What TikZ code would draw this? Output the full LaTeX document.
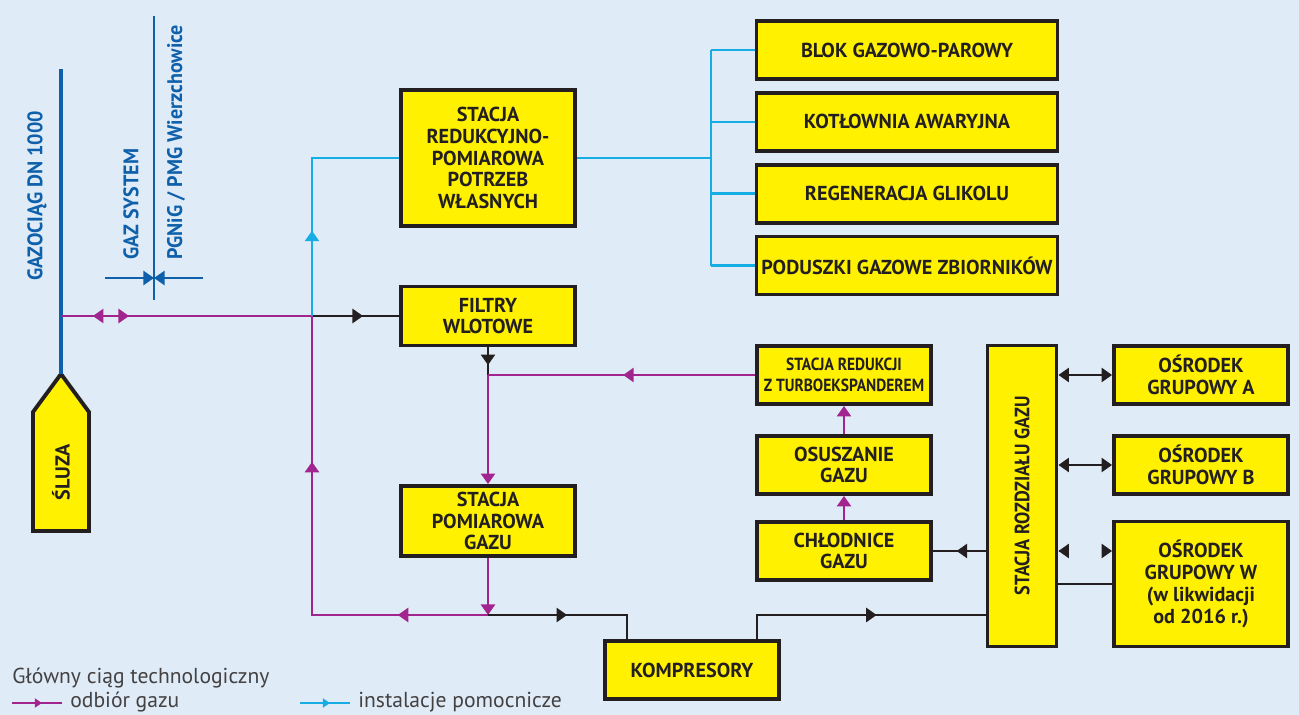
\documentclass[tikz,border=0pt]{standalone}
\usepackage{fontspec}
\setmainfont{PT Sans}
\newfontfamily\boxfont{PT Sans}[FakeStretch=0.88]
\newfontfamily\tagfont{PT Sans}[FakeStretch=0.95]
\usepackage{graphicx}
\usepackage{tikz}
\usetikzlibrary{positioning}
\usetikzlibrary{calc}
\usetikzlibrary{arrows.meta}
\usetikzlibrary{decorations.markings}

\definecolor{gasline}{RGB}{162,36,142}
\definecolor{auxline}{RGB}{22,172,228}
\definecolor{pipeblue}{RGB}{14,96,170}
\definecolor{boxyellow}{RGB}{255,241,0}
\definecolor{ink}{RGB}{35,31,32}
\definecolor{bgblue}{RGB}{223,235,246}

\begin{document}
\begin{tikzpicture}[
    x=0.02cm, y=-0.02cm,                 % one unit = one pixel, y runs down
    >={Triangle[length=6pt,width=8pt]},  % filled tips everywhere
    ]
% -------------------------------------------------
\tikzset{
  base/.style={draw=ink, line width=2.2pt, fill=boxyellow, text=ink, align=center, inner sep=1pt,
    font=\bfseries\fontsize{11.5}{12.4}\selectfont},
  proc/.style={base, rectangle, minimum width=3.48cm, minimum height=1.16cm},
  wide/.style={base, rectangle, minimum width=6.02cm, minimum height=1.16cm},
  main/.style={draw=ink, line width=1.4pt},
  gas/.style={draw=gasline, line width=1.4pt},
  aux/.style={draw=auxline, line width=1.4pt},
  pipe/.style={draw=pipeblue, line width=1.2pt},
  arr/.style={postaction={decorate, decoration={markings, mark=at position #1 with {\arrow{>}}}}},
  rarr/.style={postaction={decorate, decoration={markings, mark=at position #1 with {\arrowreversed{>}}}}},
  tag/.style={text=pipeblue, rotate=90, inner sep=0pt, font=\tagfont\bfseries\fontsize{12}{12}\selectfont},
  legend/.style={text=ink!85, inner sep=0pt, anchor=west, font=\fontsize{12.3}{14}\selectfont}
}
% -------------------------------------------------
\fill[bgblue] (0,0) rectangle (1299,715);
\useasboundingbox (0,0) rectangle (1299,715);

% Placing the nodes
\coordinate (slt) at (61,374);
\draw [ink, line width=2.2pt, fill=boxyellow, line join=miter]
  (slt) -- (89,412) -- (89,531) -- (33,531) -- (33,412) -- cycle;
\node [text=ink, rotate=90, inner sep=0pt, font=\bfseries\fontsize{11.5}{12}\selectfont] (sl) at (61,472) {ŚLUZA};

\node [proc, minimum height=2.72cm] (srp) at (488,158) {STACJA\\REDUKCYJNO-\\POMIAROWA\\POTRZEB\\WŁASNYCH};
\node [proc, minimum height=1.18cm] (fil) at (488,316) {FILTRY\\WLOTOWE};
\node [proc, minimum height=1.4cm] (spg) at (488,521) {STACJA\\POMIAROWA\\GAZU};
\node [proc] (kom) at (692,670) {KOMPRESORY};

\node [wide] (blok) at (907,50) {BLOK GAZOWO-PAROWY};
\node [wide, below=0.2cm of blok] (kot) {KOTŁOWNIA AWARYJNA};
\node [wide, below=0.2cm of kot] (reg) {REGENERACJA GLIKOLU};
\node [wide, below=0.2cm of reg] (pod) {PODUSZKI GAZOWE ZBIORNIKÓW};

\node [proc, font=\boxfont\bfseries\fontsize{10}{12}\selectfont] (srt) at (844,375) {STACJA REDUKCJI\\Z TURBOEKSPANDEREM};
\node [proc] (osu) at (844,465) {OSUSZANIE\\GAZU};
\node [proc] (chl) at (844,551) {CHŁODNICE\\GAZU};

\node [base, minimum width=1.38cm, minimum height=6.02cm, font=\boxfont\bfseries\fontsize{11.8}{12}\selectfont] (srg) at (1022,496) {\rotatebox{90}{STACJA ROZDZIAŁU GAZU}};

\node [proc] (osa) at (1201,375) {OŚRODEK\\GRUPOWY A};
\node [proc] (osb) at (1201,465) {OŚRODEK\\GRUPOWY B};
\node [proc, minimum height=2.5cm] (osw) at (1201,584) {OŚRODEK\\GRUPOWY W\\(w likwidacji\\od 2016 r.)};

% border marker and labels
\node [tag] (gz) at (37,196) {GAZOCIĄG DN 1000};
\node [tag, anchor=west] (gs) at (131,260) {GAZ SYSTEM};
\node [tag, anchor=west] (pg) at (176,260) {PGNiG / PMG Wierzchowice};

\coordinate (top) at (61,69);
\coordinate (g1) at (61,316);
\coordinate (j1) at (312,316);
\coordinate (j2) at (fil.south |- srt.west);
\coordinate (j3) at (488,615);
\coordinate (hub) at (711,158);
\coordinate (pt) at (154,16);
\coordinate (pb) at (154,300);
\coordinate (pl) at (105,278);
\coordinate (pr) at (203,278);

\path [pipe, line width=2.6pt] (top) -- (slt);
\path [pipe] (pt) -- (pb);
\path [pipe, ->] (pl) -- (pl -| pt);
\path [pipe, ->] (pr) -- (pr -| pt);

% main gas route
\path [gas, rarr=0.127, arr=0.271] (g1) -- (j1);
\path [main, arr=0.586] (j1) -- (fil.west);
\path [main, arr=0.64] (fil.south) -- (j2);
\path [gas, arr=0.494] (srt.west) -- (j2);
\path [gas, ->] (j2) -- (spg.north);
\path [gas, ->] (spg.south) -- (j3);
\path [gas, arr=0.19, arr=0.693] (j3) -| (j1);
\path [main, arr=0.485] (j3) -| ([xshift=-1.3cm]kom.north);
\path [main, arr=0.569] ([xshift=1.3cm]kom.north) |- (srg.west |- j3);
\path [main, arr=0.55] (srg.west |- chl.east) -- (chl.east);
\path [gas, ->] (chl.north) -- (osu.south);
\path [gas, ->] (osu.north) -- (srt.south);

% storage sites
\path [main, <->] (srg.east |- osa.west) -- (osa.west);
\path [main, <->] (srg.east |- osb.west) -- (osb.west);
\path [main, ->] ($(srg.east |- chl.east)+(1,0)$) -- (srg.east |- chl.east);
\path [main, ->] ($(osw.west |- chl.east)+(-1,0)$) -- (osw.west |- chl.east);
\path [main] (srg.east |- osw.west) -- (osw.west);

% auxiliary installations
\path [aux, arr=0.348] (j1) |- (srp.west);
\path [aux] (srp.east) -- (hub);
\path [aux] (hub |- blok.west) -- (hub |- pod.west);
\foreach \n in {blok,kot,reg,pod}
  \path [aux] (hub |- \n.west) -- (\n.west);

% legend
\node [legend] (lg0) at (12,678) {Główny ciąg technologiczny};
\node [legend] (lg1) at (70,702) {odbiór gazu};
\node [legend] (lg2) at (358,702) {instalacje pomocnicze};
\coordinate (lg1a) at (12,703);
\coordinate (lg2a) at (300,703);
\path [gas, line width=1pt, >={Triangle[length=4pt,width=5pt]}, arr=0.6] (lg1a) -- ([xshift=-0.16cm]lg1.west |- lg1a);
\path [aux, line width=1pt, >={Triangle[length=4pt,width=5pt]}, arr=0.6] (lg2a) -- ([xshift=-0.16cm]lg2.west |- lg2a);

\end{tikzpicture}
\end{document}
